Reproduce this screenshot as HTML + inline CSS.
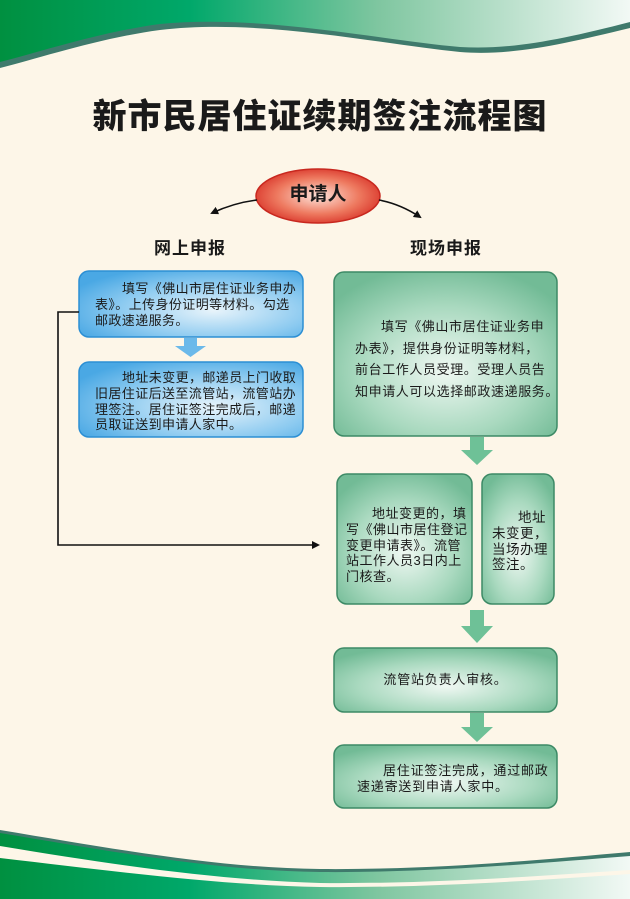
<!DOCTYPE html>
<html><head><meta charset="utf-8">
<style>
html,body{margin:0;padding:0;}
body{width:630px;height:899px;position:relative;overflow:hidden;background:#fdf6e8;font-family:"Liberation Sans","Noto Sans CJK SC",sans-serif;}
.t{position:absolute;color:#1a1a1a;font-size:13px;letter-spacing:0.8px;line-height:15.8px;white-space:nowrap;}
.h{position:absolute;font-weight:bold;color:#1a1a1a;}
</style></head><body>
<svg width="630" height="899" style="position:absolute;left:0;top:0">
<defs>
<linearGradient id="gw" x1="0" x2="1" y1="0" y2="0">
<stop offset="0" stop-color="#009040"/><stop offset="0.3" stop-color="#00a86a"/><stop offset="0.6" stop-color="#7fc6a0"/><stop offset="1" stop-color="#f2f9f5"/>
</linearGradient>
<radialGradient id="gb" cx="0.6" cy="0.6" r="0.7">
<stop offset="0" stop-color="#e8f4fb"/><stop offset="0.6" stop-color="#8ccaf0"/><stop offset="1" stop-color="#4aa8e4"/>
</radialGradient>
<radialGradient id="gg" cx="0.5" cy="0.6" r="0.65">
<stop offset="0" stop-color="#f0f8f3"/><stop offset="0.6" stop-color="#a9d9bf"/><stop offset="1" stop-color="#72bb96"/>
</radialGradient>
<radialGradient id="gr" cx="0.5" cy="0.5" r="0.55">
<stop offset="0" stop-color="#fde3da"/><stop offset="0.6" stop-color="#ee7a60"/><stop offset="1" stop-color="#d9352a"/>
</radialGradient>
<marker id="ah" markerWidth="8" markerHeight="8" refX="6" refY="4" orient="auto" markerUnits="userSpaceOnUse"><path d="M0,0 L8,4 L0,8 Z" fill="#111"/></marker>
</defs>
<path d="M0,0 H630 V28 C560,45 510,56 460,52 C380,44 260,18 160,30 C100,38 40,58 0,68 Z" fill="#3f7a6c"/>
<path d="M0,0 H630 V22 C560,40 510,50 460,47 C380,40 260,14 160,24 C100,32 40,52 0,62 Z" fill="url(#gw)"/>
<path d="M0,830 C120,850 220,868 320,869 C430,870 540,860 630,852 V899 H0 Z" fill="#3f7a6c"/>
<path d="M0,833 C120,853 220,871 320,872 C430,873 540,863 630,856 V899 H0 Z" fill="url(#gw)"/>
<path d="M0,846 C120,866 220,880 320,883 C430,884 540,876 630,870 V874 C540,880 430,888 320,887 C220,885 120,872 0,858 Z" fill="#fdf6e8"/>
<ellipse cx="318" cy="196" rx="62" ry="27" fill="url(#gr)" stroke="#c8281f" stroke-width="1.5"/>
<path d="M257,200 C240,202 225,207 212,213" stroke="#111" stroke-width="1.6" fill="none" marker-end="url(#ah)"/>
<path d="M379,200 C395,203 408,209 420,217" stroke="#111" stroke-width="1.6" fill="none" marker-end="url(#ah)"/>
<rect x="79" y="271" width="224" height="66" rx="10" fill="url(#gb)" stroke="#2c8fd4" stroke-width="1.5"/>
<path d="M184,338 H197 V346 H206 L190.5,357 L175,346 H184 Z" fill="#6bb9ea"/>
<rect x="79" y="362" width="224" height="75" rx="10" fill="url(#gb)" stroke="#2c8fd4" stroke-width="1.5"/>
<path d="M79,312 H58 V545 H318" stroke="#111" stroke-width="1.6" fill="none" marker-end="url(#ah)"/>
<rect x="334" y="272" width="223" height="164" rx="10" fill="url(#gg)" stroke="#3d8a66" stroke-width="1.5"/>
<path d="M470,437 H484 V450 H493 L477,465 L461,450 H470 Z" fill="#6ec197"/>
<rect x="337" y="474" width="135" height="130" rx="10" fill="url(#gg)" stroke="#3d8a66" stroke-width="1.5"/>
<rect x="482" y="474" width="72" height="130" rx="10" fill="url(#gg)" stroke="#3d8a66" stroke-width="1.5"/>
<path d="M470,610 H484 V626 H493 L477,643 L461,626 H470 Z" fill="#6ec197"/>
<rect x="334" y="648" width="223" height="64" rx="10" fill="url(#gg)" stroke="#3d8a66" stroke-width="1.5"/>
<path d="M470,713 H484 V727 H493 L477,742 L461,727 H470 Z" fill="#6ec197"/>
<rect x="334" y="745" width="223" height="63" rx="10" fill="url(#gg)" stroke="#3d8a66" stroke-width="1.5"/>
</svg>

<div class="h" style="left:85px;top:95px;width:470px;text-align:center;font-size:34px;letter-spacing:1px;line-height:44px;font-weight:900;">新市民居住证续期签注流程图</div>
<div class="h" style="left:268px;top:183px;width:100px;text-align:center;font-size:19px;line-height:24px;">申请人</div>
<div class="h" style="left:140px;top:238px;width:100px;text-align:center;font-size:17px;letter-spacing:1px;line-height:22px;">网上申报</div>
<div class="h" style="left:396px;top:238px;width:100px;text-align:center;font-size:17px;letter-spacing:1px;line-height:22px;">现场申报</div>

<div class="t" style="left:95px;top:281px;letter-spacing:0.4px;"><span style="padding-left:27px"></span>填写《佛山市居住证业务申办<br>表》。上传身份证明等材料。勾选<br>邮政速递服务。</div>
<div class="t" style="left:95px;top:370px;letter-spacing:0.4px;"><span style="padding-left:27px"></span>地址未变更，邮递员上门收取<br>旧居住证后送至流管站，流管站办<br>理签注。居住证签注完成后，邮递<br>员取证送到申请人家中。</div>
<div class="t" style="left:355px;top:316px;line-height:21.5px;letter-spacing:0.6px;"><span style="padding-left:26px"></span>填写《佛山市居住证业务申<br>办表》，提供身份证明等材料，<br>前台工作人员受理。受理人员告<br>知申请人可以选择邮政速递服务。</div>
<div class="t" style="left:346px;top:506px;letter-spacing:0.5px;"><span style="padding-left:26px"></span>地址变更的，填<br>写《佛山市居住登记<br>变更申请表》。流管<br>站工作人员3日内上<br>门核查。</div>
<div class="t" style="left:492px;top:510px;font-size:13.5px;letter-spacing:0.5px;"><span style="padding-left:26px"></span>地址<br>未变更，<br>当场办理<br>签注。</div>
<div class="t" style="left:334px;top:672px;width:223px;text-align:center;">流管站负责人审核。</div>
<div class="t" style="left:357px;top:763px;"><span style="padding-left:26px"></span>居住证签注完成，通过邮政<br>速递寄送到申请人家中。</div>
</body></html>
